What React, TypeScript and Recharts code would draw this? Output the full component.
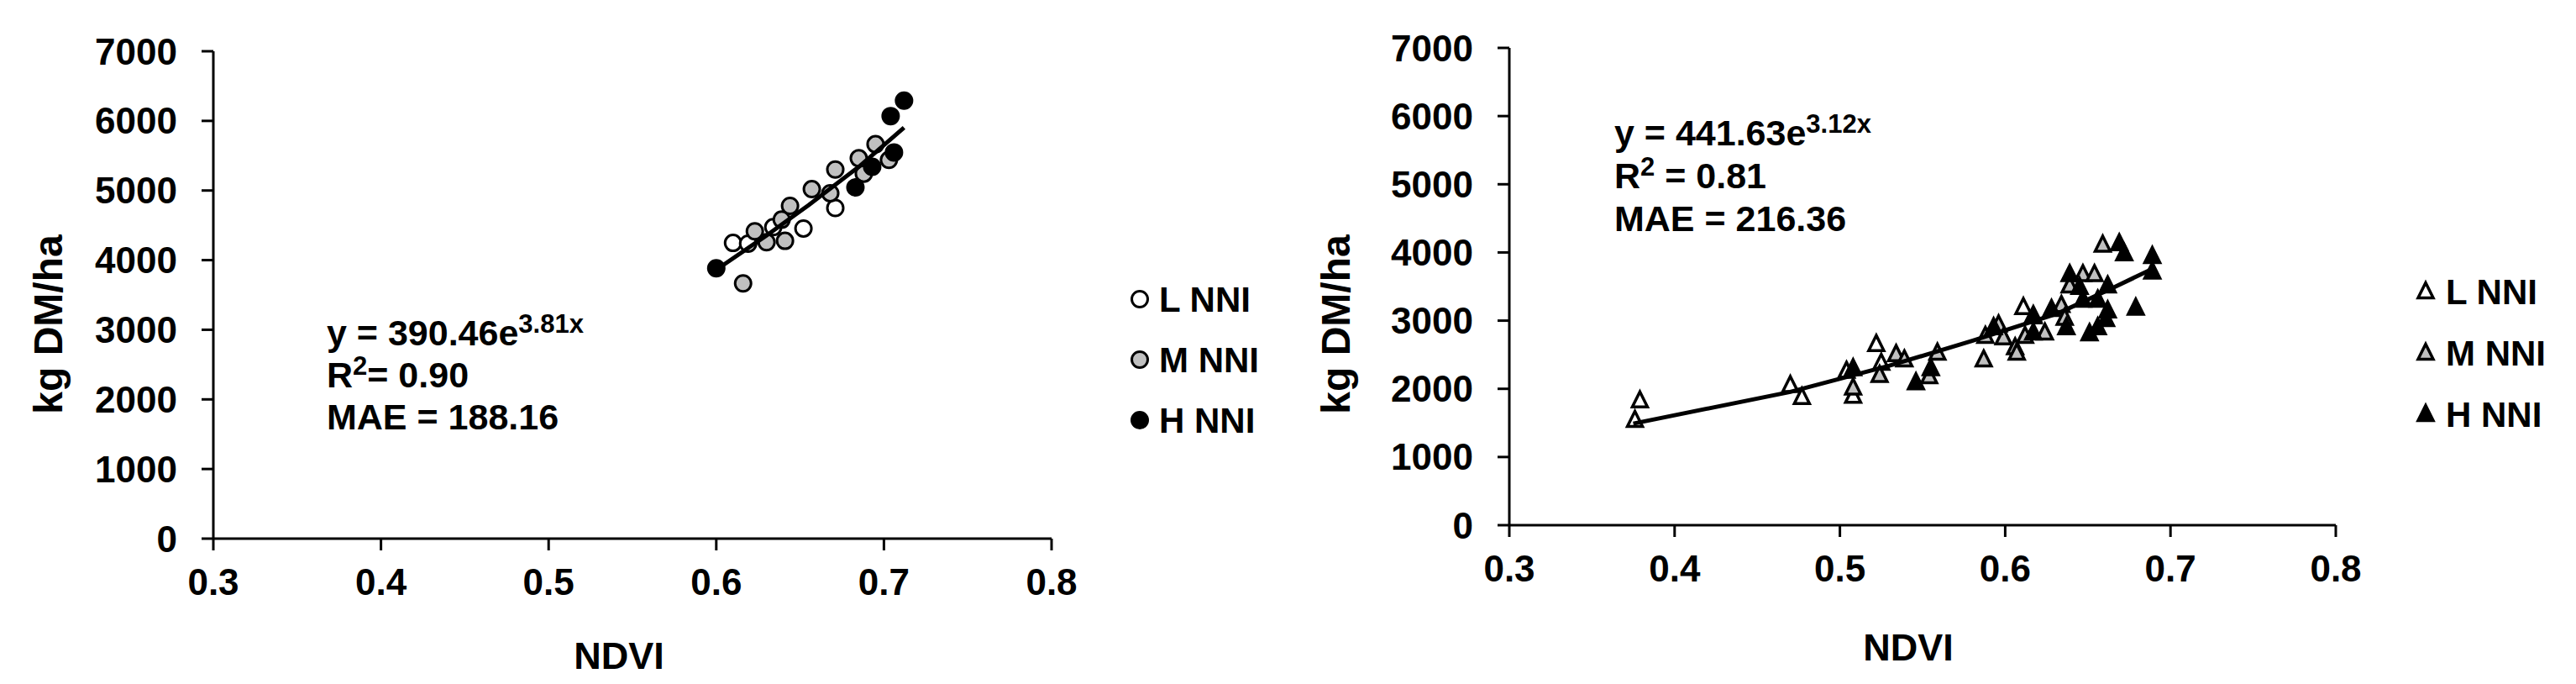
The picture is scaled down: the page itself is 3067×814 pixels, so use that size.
import React from 'react';
import { ScatterChart, Scatter, XAxis, YAxis } from 'recharts';

// ---------- data ----------
const xTicks = [0.3, 0.4, 0.5, 0.6, 0.7, 0.8];
const yTicks = [0, 1000, 2000, 3000, 4000, 5000, 6000, 7000];
const legendLabels = ['L NNI', 'M NNI', 'H NNI'];
const xTitle = 'NDVI';
const yTitle = 'kg DM/ha';

// left panel (circles)
const leftL = [
  { x: 0.610, y: 4247 }, { x: 0.619, y: 4237 }, { x: 0.634, y: 4474 },
  { x: 0.652, y: 4454 }, { x: 0.671, y: 4749 },
];
const leftM = [
  { x: 0.616, y: 3666 }, { x: 0.623, y: 4414 }, { x: 0.630, y: 4257 },
  { x: 0.641, y: 4277 }, { x: 0.639, y: 4582 }, { x: 0.644, y: 4779 },
  { x: 0.657, y: 5020 }, { x: 0.668, y: 4961 }, { x: 0.671, y: 5301 },
  { x: 0.685, y: 5463 }, { x: 0.688, y: 5242 }, { x: 0.695, y: 5665 },
  { x: 0.703, y: 5439 },
];
const leftH = [
  { x: 0.600, y: 3883 }, { x: 0.683, y: 5045 }, { x: 0.693, y: 5340 },
  { x: 0.706, y: 5547 }, { x: 0.704, y: 6069 }, { x: 0.712, y: 6290 },
];
const leftTrend = [
  { x: 0.603, y: 3910 }, { x: 0.630, y: 4355 }, { x: 0.655, y: 4789 },
  { x: 0.685, y: 5340 }, { x: 0.712, y: 5902 },
];
const leftEq = { a: 'y = 390.46e', exp: '3.81x', r2: '= 0.90', mae: 'MAE = 188.16' };

// right panel (triangles)
const rightL = [
  { x: 0.376, y: 1541 }, { x: 0.379, y: 1827 }, { x: 0.470, y: 2053 },
  { x: 0.477, y: 1876 }, { x: 0.504, y: 2260 }, { x: 0.508, y: 1896 },
  { x: 0.522, y: 2654 }, { x: 0.525, y: 2378 }, { x: 0.611, y: 3195 },
];
const rightM = [
  { x: 0.508, y: 2014 }, { x: 0.524, y: 2201 }, { x: 0.534, y: 2506 },
  { x: 0.539, y: 2427 }, { x: 0.554, y: 2181 }, { x: 0.559, y: 2526 },
  { x: 0.587, y: 2427 }, { x: 0.588, y: 2772 }, { x: 0.596, y: 2939 },
  { x: 0.599, y: 2752 }, { x: 0.606, y: 2605 }, { x: 0.607, y: 2526 },
  { x: 0.612, y: 2772 }, { x: 0.617, y: 3058 }, { x: 0.624, y: 2821 },
  { x: 0.634, y: 3225 }, { x: 0.636, y: 3038 }, { x: 0.639, y: 3511 },
  { x: 0.647, y: 3678 }, { x: 0.654, y: 3678 }, { x: 0.659, y: 4111 },
];
const rightH = [
  { x: 0.508, y: 2299 }, { x: 0.546, y: 2093 }, { x: 0.555, y: 2299 },
  { x: 0.593, y: 2900 }, { x: 0.617, y: 2821 }, { x: 0.617, y: 3077 },
  { x: 0.628, y: 3166 }, { x: 0.637, y: 2900 }, { x: 0.639, y: 3678 },
  { x: 0.645, y: 3491 }, { x: 0.647, y: 3304 }, { x: 0.651, y: 2811 },
  { x: 0.656, y: 2900 }, { x: 0.656, y: 3304 }, { x: 0.661, y: 3018 },
  { x: 0.662, y: 3146 }, { x: 0.662, y: 3511 }, { x: 0.669, y: 4131 },
  { x: 0.672, y: 3983 }, { x: 0.679, y: 3186 }, { x: 0.689, y: 3944 },
  { x: 0.689, y: 3717 },
];
const rightTrend = [
  { x: 0.375, y: 1490 }, { x: 0.470, y: 1955 }, { x: 0.530, y: 2339 },
  { x: 0.580, y: 2703 }, { x: 0.632, y: 3107 }, { x: 0.666, y: 3491 },
  { x: 0.688, y: 3747 },
];
const rightEq = { a: 'y = 441.63e', exp: '3.12x', r2: ' = 0.81', mae: 'MAE = 216.36' };

// ---------- styling ----------
const FONT = '"Liberation Sans", Arial, Helvetica, sans-serif';
const GRAY = '#c0c0c0';
const tickStyle = { fill: '#000', fontSize: 44, fontWeight: 700, fontFamily: FONT };
const axisLineStyle = { stroke: '#000', strokeWidth: 3 };

const circleShape = (fill: string) => (p: any) =>
  <circle cx={p.cx} cy={p.cy} r={9.5} fill={fill} stroke="#000" strokeWidth={3} />;

const triPoints = (cx: number, cy: number) =>
  `${cx},${cy - 10.5} ${cx + 9},${cy + 7.5} ${cx - 9},${cy + 7.5}`;
const triShape = (fill: string) => (p: any) =>
  <polygon points={triPoints(p.cx, p.cy)} fill={fill} stroke="#000" strokeWidth={3.5} />;
const noShape = () => <g />;

function Panel(props: any) {
  const { width, height, top, plotRight, xAxisHeight, yAxisWidth, series, trend, tickMarginX } = props;
  return (
    <ScatterChart
      width={width}
      height={height}
      margin={{ top, right: width - plotRight, bottom: 0, left: 0 }}
    >
      <XAxis
        type="number"
        dataKey="x"
        domain={[0.3, 0.8]}
        ticks={xTicks}
        interval={0}
        height={xAxisHeight}
        tickSize={14}
        tickMargin={tickMarginX}
        axisLine={axisLineStyle}
        tickLine={axisLineStyle}
        tick={tickStyle}
        allowDataOverflow
      />
      <YAxis
        type="number"
        dataKey="y"
        domain={[0, 7000]}
        ticks={yTicks}
        interval={0}
        width={yAxisWidth}
        tickSize={14}
        tickMargin={29}
        axisLine={axisLineStyle}
        tickLine={axisLineStyle}
        tick={tickStyle}
        allowDataOverflow
      />
      {series.map((s: any, i: number) => (
        <Scatter key={i} data={s.data} shape={s.shape} isAnimationActive={false} />
      ))}
      <Scatter
        data={trend}
        shape={noShape}
        line={{ stroke: '#000', strokeWidth: 5 }}
        isAnimationActive={false}
      />
    </ScatterChart>
  );
}

function Equation(props: any) {
  const { x, y0, step, eq } = props;
  const fs = 43;
  const sup = 31;
  return (
    <g fontFamily={FONT} fontWeight={700} fill="#000">
      <text x={x} y={y0} fontSize={fs}>
        {eq.a}
        <tspan dy={-15} fontSize={sup}>{eq.exp}</tspan>
      </text>
      <text x={x} y={y0 + step} fontSize={fs}>
        R
        <tspan dy={-15} fontSize={sup}>2</tspan>
        <tspan dy={15}>{eq.r2}</tspan>
      </text>
      <text x={x} y={y0 + 2 * step} fontSize={fs}>{eq.mae}</text>
    </g>
  );
}

export default function App() {
  const fills = ['#ffffff', GRAY, '#000000'];
  const leftSeries = [leftL, leftM, leftH].map((d, i) => ({ data: d, shape: circleShape(fills[i]) }));
  const rightSeries = [rightL, rightM, rightH].map((d, i) => ({ data: d, shape: triShape(fills[i]) }));

  const leftLegendY = [356, 428, 500];
  const rightLegendY = [347, 420, 493];

  return (
    <div style={{ position: 'absolute', left: 0, top: 0, width: 3067, height: 814, background: '#fff', overflow: 'hidden' }}>
      <div style={{ position: 'absolute', left: 0, top: 0 }}>
        <Panel
          width={1300}
          height={814}
          top={61}
          plotRight={1252}
          xAxisHeight={173}
          yAxisWidth={254}
          tickMarginX={22}
          series={leftSeries}
          trend={leftTrend}
        />
      </div>
      <div style={{ position: 'absolute', left: 1543, top: 0 }}>
        <Panel
          width={1300}
          height={814}
          top={57}
          plotRight={1238}
          xAxisHeight={189}
          yAxisWidth={254}
          tickMarginX={22}
          series={rightSeries}
          trend={rightTrend}
        />
      </div>
      <svg
        width={3067}
        height={814}
        style={{ position: 'absolute', left: 0, top: 0, pointerEvents: 'none' }}
      >
        {/* axis titles */}
        <g fontFamily={FONT} fontWeight={700} fill="#000" fontSize={48}>
          <text transform="translate(62,386) rotate(-90)" textAnchor="middle" y={12}>{yTitle}</text>
          <text transform="translate(1595,386) rotate(-90)" textAnchor="middle" y={12}>{yTitle}</text>
        </g>
        <g fontFamily={FONT} fontWeight={700} fill="#000" fontSize={45}>
          <text x={737} y={796} textAnchor="middle">{xTitle}</text>
          <text x={2272} y={786} textAnchor="middle">{xTitle}</text>
        </g>

        {/* equations */}
        <Equation x={389} y0={411} step={50} eq={leftEq} />
        <Equation x={1922} y0={173} step={51} eq={rightEq} />

        {/* legends */}
        <g fontFamily={FONT} fontWeight={700} fill="#000" fontSize={42}>
          {legendLabels.map((lab, i) => (
            <g key={'l' + i}>
              <circle cx={1357} cy={leftLegendY[i]} r={9.5} fill={fills[i]} stroke="#000" strokeWidth={3} />
              <text x={1380} y={leftLegendY[i] + 15}>{lab}</text>
            </g>
          ))}
          {legendLabels.map((lab, i) => (
            <g key={'r' + i}>
              <polygon points={triPoints(2888, rightLegendY[i])} fill={fills[i]} stroke="#000" strokeWidth={3.5} />
              <text x={2912} y={rightLegendY[i] + 15}>{lab}</text>
            </g>
          ))}
        </g>
      </svg>
    </div>
  );
}
